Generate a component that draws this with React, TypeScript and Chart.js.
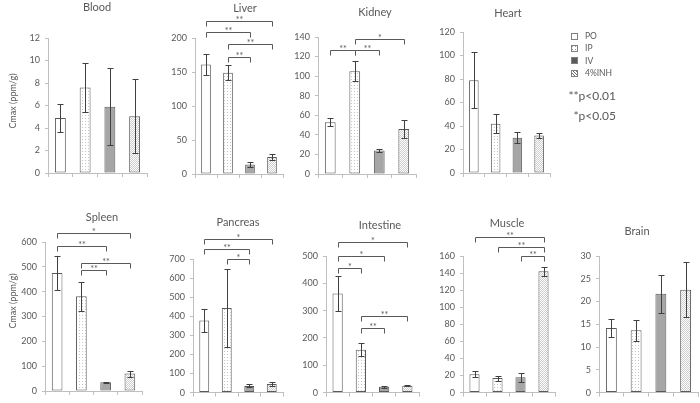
import React, { useEffect, useRef } from 'react';
import { Chart, registerables } from 'chart.js';

Chart.register(...registerables);

const FONT = 'Lato';
const TEXT = '#595959';
const AXIS = '#bfbfbf';
const EDGE = '#595959';
const ERR = '#404040';

const categories = ['PO', 'IP', 'IV', '4%INH'];
const pValueNotes = ['**p<0.01', '*p<0.05'];
const yAxisTitle = 'Cmax (ppm/g)';

// [fromCategory, toCategory, yValue, label]
type Sig = [number, number, number, string];

const bloodMeans = [4.9, 7.6, 5.9, 5.05];
const bloodErrs = [1.25, 2.2, 3.45, 3.3];
const bloodSig: Sig[] = [];

const liverMeans = [161, 149, 14, 25];
const liverErrs = [16, 11, 3, 4];
const liverSig: Sig[] = [[0, 3, 225, '**'], [0, 2, 209, '**'], [1, 3, 191, '**'], [1, 2, 172, '**']];

const kidneyMeans = [53, 105, 24, 46];
const kidneyErrs = [4, 10, 2, 9.5];
const kidneySig: Sig[] = [[0, 1, 127, '**'], [1, 2, 127, '**'], [1, 3, 138, '*']];

const heartMeans = [79, 42, 30, 32];
const heartErrs = [24, 8, 4.5, 2];
const heartSig: Sig[] = [];

const spleenMeans = [475, 382, 35, 70];
const spleenErrs = [69, 58, 3, 12];
const spleenSig: Sig[] = [[0, 3, 637, '*'], [0, 2, 585, '**'], [1, 3, 516, '**'], [1, 2, 488, '**']];

const pancreasMeans = [378, 443, 35, 45];
const pancreasErrs = [62, 205, 8, 8];
const pancreasSig: Sig[] = [[0, 3, 807, '*'], [0, 2, 751, '**'], [1, 2, 700, '*']];

const intestineMeans = [363, 157, 21, 25];
const intestineErrs = [63, 24, 4, 2];
const intestineSig: Sig[] = [[0, 3, 550, '*'], [0, 2, 500, '*'], [0, 1, 457, '*'], [1, 3, 280, '**'], [1, 2, 238, '**']];

const muscleMeans = [21.5, 17, 18, 142];
const muscleErrs = [3.4, 3, 5, 5];
const muscleSig: Sig[] = [[0, 3, 182, '**'], [1, 3, 170, '**'], [2, 3, 160, '**']];

const brainMeans = [14.2, 13.7, 21.7, 22.6];
const brainErrs = [1.9, 2.3, 4.2, 6];
const brainSig: Sig[] = [];

type PanelCfg = {
  name: string;
  means: number[];
  errs: number[];
  sig: Sig[];
  yMax: number;
  yStep: number;
  left: number;
  top: number;
  width: number;
  height: number;
  area: { l: number; t: number; r: number; b: number };
  titlePos: [number, number];
  yTitleAt?: [number, number];
  legend?: boolean;
};

const panels: PanelCfg[] = [
  { name: 'Blood', means: bloodMeans, errs: bloodErrs, sig: bloodSig, yMax: 12, yStep: 2, left: 0, top: 0, width: 150, height: 185, area: { l: 48, t: 38, r: 147, b: 173 }, titlePos: [97, 7], yTitleAt: [13, 101] },
  { name: 'Liver', means: liverMeans, errs: liverErrs, sig: liverSig, yMax: 200, yStep: 50, left: 160, top: 0, width: 128, height: 185, area: { l: 195, t: 38, r: 283, b: 174 }, titlePos: [245, 8] },
  { name: 'Kidney', means: kidneyMeans, errs: kidneyErrs, sig: kidneySig, yMax: 140, yStep: 20, left: 290, top: 0, width: 130, height: 185, area: { l: 318, t: 37, r: 416, b: 174 }, titlePos: [375, 12] },
  { name: 'Heart', means: heartMeans, errs: heartErrs, sig: heartSig, yMax: 120, yStep: 20, left: 430, top: 0, width: 270, height: 185, area: { l: 463, t: 32, r: 550, b: 173 }, titlePos: [508, 13], legend: true },
  { name: 'Spleen', means: spleenMeans, errs: spleenErrs, sig: spleenSig, yMax: 600, yStep: 100, left: 0, top: 188, width: 150, height: 215, area: { l: 45, t: 242, r: 142, b: 391 }, titlePos: [102, 217], yTitleAt: [13, 301] },
  { name: 'Pancreas', means: pancreasMeans, errs: pancreasErrs, sig: pancreasSig, yMax: 700, yStep: 100, left: 160, top: 188, width: 126, height: 215, area: { l: 193, t: 259, r: 283, b: 396 }, titlePos: [238, 222] },
  { name: 'Intestine', means: intestineMeans, errs: intestineErrs, sig: intestineSig, yMax: 500, yStep: 100, left: 288, top: 188, width: 134, height: 215, area: { l: 326, t: 256, r: 419, b: 396 }, titlePos: [380, 225] },
  { name: 'Muscle', means: muscleMeans, errs: muscleErrs, sig: muscleSig, yMax: 160, yStep: 20, left: 430, top: 188, width: 130, height: 215, area: { l: 463, t: 256, r: 555, b: 397 }, titlePos: [507, 223] },
  { name: 'Brain', means: brainMeans, errs: brainErrs, sig: brainSig, yMax: 30, yStep: 5, left: 565, top: 188, width: 135, height: 215, area: { l: 599, t: 256, r: 698, b: 394 }, titlePos: [637, 231] },
];

function makePattern(kind: string): CanvasPattern | string {
  const c = document.createElement('canvas');
  const size = kind === 'hatch' ? 2 : 3;
  c.width = size;
  c.height = size;
  const ctx = c.getContext('2d');
  if (!ctx) return '#ffffff';
  ctx.fillStyle = '#ffffff';
  ctx.fillRect(0, 0, size, size);
  if (kind === 'dots') {
    ctx.fillStyle = '#c4c4c4';
    ctx.fillRect(1, 1, 1, 1);
  } else if (kind === 'hatch') {
    ctx.fillStyle = '#cdcdcd';
    ctx.fillRect(0, 1, 1, 1);
    ctx.fillRect(1, 0, 1, 1);
  } else if (kind === 'hatchDark') {
    ctx.fillStyle = '#6a6a6a';
    ctx.fillRect(0, 0, 1, 1);
    ctx.fillRect(1, 1, 1, 1);
    ctx.fillRect(2, 2, 1, 1);
  } else if (kind === 'dotsDark') {
    ctx.fillStyle = '#9a9a9a';
    ctx.fillRect(1, 1, 1, 1);
  }
  return ctx.createPattern(c, 'repeat') || '#ffffff';
}

function Panel({ cfg }: { cfg: PanelCfg }) {
  const ref = useRef<HTMLCanvasElement>(null);
  useEffect(() => {
    if (!ref.current) return;
    const { left, top, width, height, area } = cfg;
    const yw = area.l - left;
    const padTop = area.t - top;
    const padRight = left + width - area.r;
    const xh = 5;
    const padBottom = top + height - area.b - xh;
    const fills = ['#ffffff', makePattern('dots'), '#a6a6a6', makePattern('hatch')];

    const extras = {
      id: 'extras',
      afterDatasetsDraw(chart: any) {
        const ctx = chart.ctx;
        const ys = chart.scales.y;
        const meta = chart.getDatasetMeta(0);
        ctx.save();
        ctx.strokeStyle = ERR;
        ctx.lineWidth = 1;
        cfg.means.forEach((m, i) => {
          const bar = meta.data[i];
          if (!bar) return;
          const x = Math.round(bar.x) + 0.5;
          const y1 = Math.round(ys.getPixelForValue(m + cfg.errs[i])) + 0.5;
          const y2 = Math.round(ys.getPixelForValue(Math.max(0, m - cfg.errs[i]))) + 0.5;
          ctx.beginPath();
          ctx.moveTo(x, y1);
          ctx.lineTo(x, y2);
          ctx.moveTo(x - 3, y1);
          ctx.lineTo(x + 3, y1);
          ctx.moveTo(x - 3, y2);
          ctx.lineTo(x + 3, y2);
          ctx.stroke();
        });
        ctx.restore();
      },
      afterDraw(chart: any) {
        const ctx = chart.ctx;
        const ys = chart.scales.y;
        const meta = chart.getDatasetMeta(0);
        ctx.save();
        // significance brackets
        ctx.strokeStyle = EDGE;
        ctx.lineWidth = 1;
        ctx.fillStyle = TEXT;
        ctx.font = `9px ${FONT}`;
        ctx.textAlign = 'center';
        ctx.textBaseline = 'alphabetic';
        cfg.sig.forEach(([a, b, v, label]) => {
          const xa = Math.round(meta.data[a].x) + 0.5;
          const xb = Math.round(meta.data[b].x) + 0.5;
          const y = Math.round(ys.getPixelForValue(v)) + 0.5;
          ctx.beginPath();
          ctx.moveTo(xa, y + 5);
          ctx.lineTo(xa, y);
          ctx.lineTo(xb, y);
          ctx.lineTo(xb, y + 5);
          ctx.stroke();
          ctx.fillText(label, (xa + xb) / 2, y + 1);
        });
        // title
        ctx.fillStyle = TEXT;
        ctx.font = `11px ${FONT}`;
        ctx.textAlign = 'center';
        ctx.textBaseline = 'middle';
        ctx.fillText(cfg.name, cfg.titlePos[0] - left, cfg.titlePos[1] - top);
        // y axis title
        if (cfg.yTitleAt) {
          ctx.save();
          ctx.translate(cfg.yTitleAt[0] - left, cfg.yTitleAt[1] - top);
          ctx.rotate(-Math.PI / 2);
          ctx.font = `9px ${FONT}`;
          ctx.fillText(yAxisTitle, 0, 0);
          ctx.restore();
        }
        // legend
        if (cfg.legend) {
          const legendFills = ['#ffffff', makePattern('dotsDark'), '#595959', makePattern('hatchDark')];
          categories.forEach((c, i) => {
            const cy = 36 + i * 12.4 - top;
            const sx = 571 - left;
            ctx.fillStyle = legendFills[i] as any;
            ctx.fillRect(sx, Math.round(cy - 3.5), 7, 7);
            ctx.strokeStyle = '#7f7f7f';
            ctx.strokeRect(sx + 0.5, Math.round(cy - 3.5) + 0.5, 6, 6);
            ctx.fillStyle = TEXT;
            ctx.font = `8.5px ${FONT}`;
            ctx.textAlign = 'left';
            ctx.textBaseline = 'middle';
            ctx.fillText(c, 585 - left, cy);
          });
          ctx.font = `12px ${FONT}`;
          ctx.textAlign = 'right';
          ctx.textBaseline = 'middle';
          ctx.fillStyle = TEXT;
          ctx.fillText(pValueNotes[0], 616 - left, 96 - top);
          ctx.fillText(pValueNotes[1], 616 - left, 116 - top);
        }
        ctx.restore();
      },
    };

    const chart = new Chart(ref.current, {
      type: 'bar',
      data: {
        labels: categories,
        datasets: [
          {
            data: cfg.means,
            backgroundColor: fills as any,
            borderColor: EDGE,
            borderWidth: 1,
            borderSkipped: false,
            barPercentage: 0.44,
            categoryPercentage: 1,
          },
        ],
      },
      options: {
        animation: false,
        responsive: false,
        devicePixelRatio: 1,
        layout: { padding: { left: 0, top: padTop, right: padRight, bottom: padBottom } },
        plugins: { legend: { display: false }, tooltip: { enabled: false }, title: { display: false } },
        scales: {
          x: {
            offset: true,
            grid: { display: true, drawOnChartArea: false, drawTicks: true, tickLength: 4, color: AXIS, offset: true },
            border: { display: true, color: AXIS },
            ticks: { display: false },
            afterFit: (s: any) => {
              s.height = xh;
            },
          },
          y: {
            min: 0,
            max: cfg.yMax,
            ticks: { stepSize: cfg.yStep, color: TEXT, font: { family: FONT, size: 9 }, padding: 5 },
            grid: { drawOnChartArea: false, drawTicks: true, tickLength: 3, color: AXIS },
            border: { display: true, color: AXIS },
            afterFit: (s: any) => {
              s.width = yw;
            },
          },
        },
      },
      plugins: [extras],
    });
    return () => chart.destroy();
  }, [cfg]);
  return (
    <canvas
      ref={ref}
      width={cfg.width}
      height={cfg.height}
      style={{ position: 'absolute', left: cfg.left, top: cfg.top, width: cfg.width, height: cfg.height }}
    />
  );
}

export default function App() {
  return (
    <div style={{ position: 'fixed', left: 0, top: 0, width: 700, height: 403, background: '#ffffff', overflow: 'hidden' }}>
      {panels.map((p) => (
        <Panel key={p.name} cfg={p} />
      ))}
    </div>
  );
}
